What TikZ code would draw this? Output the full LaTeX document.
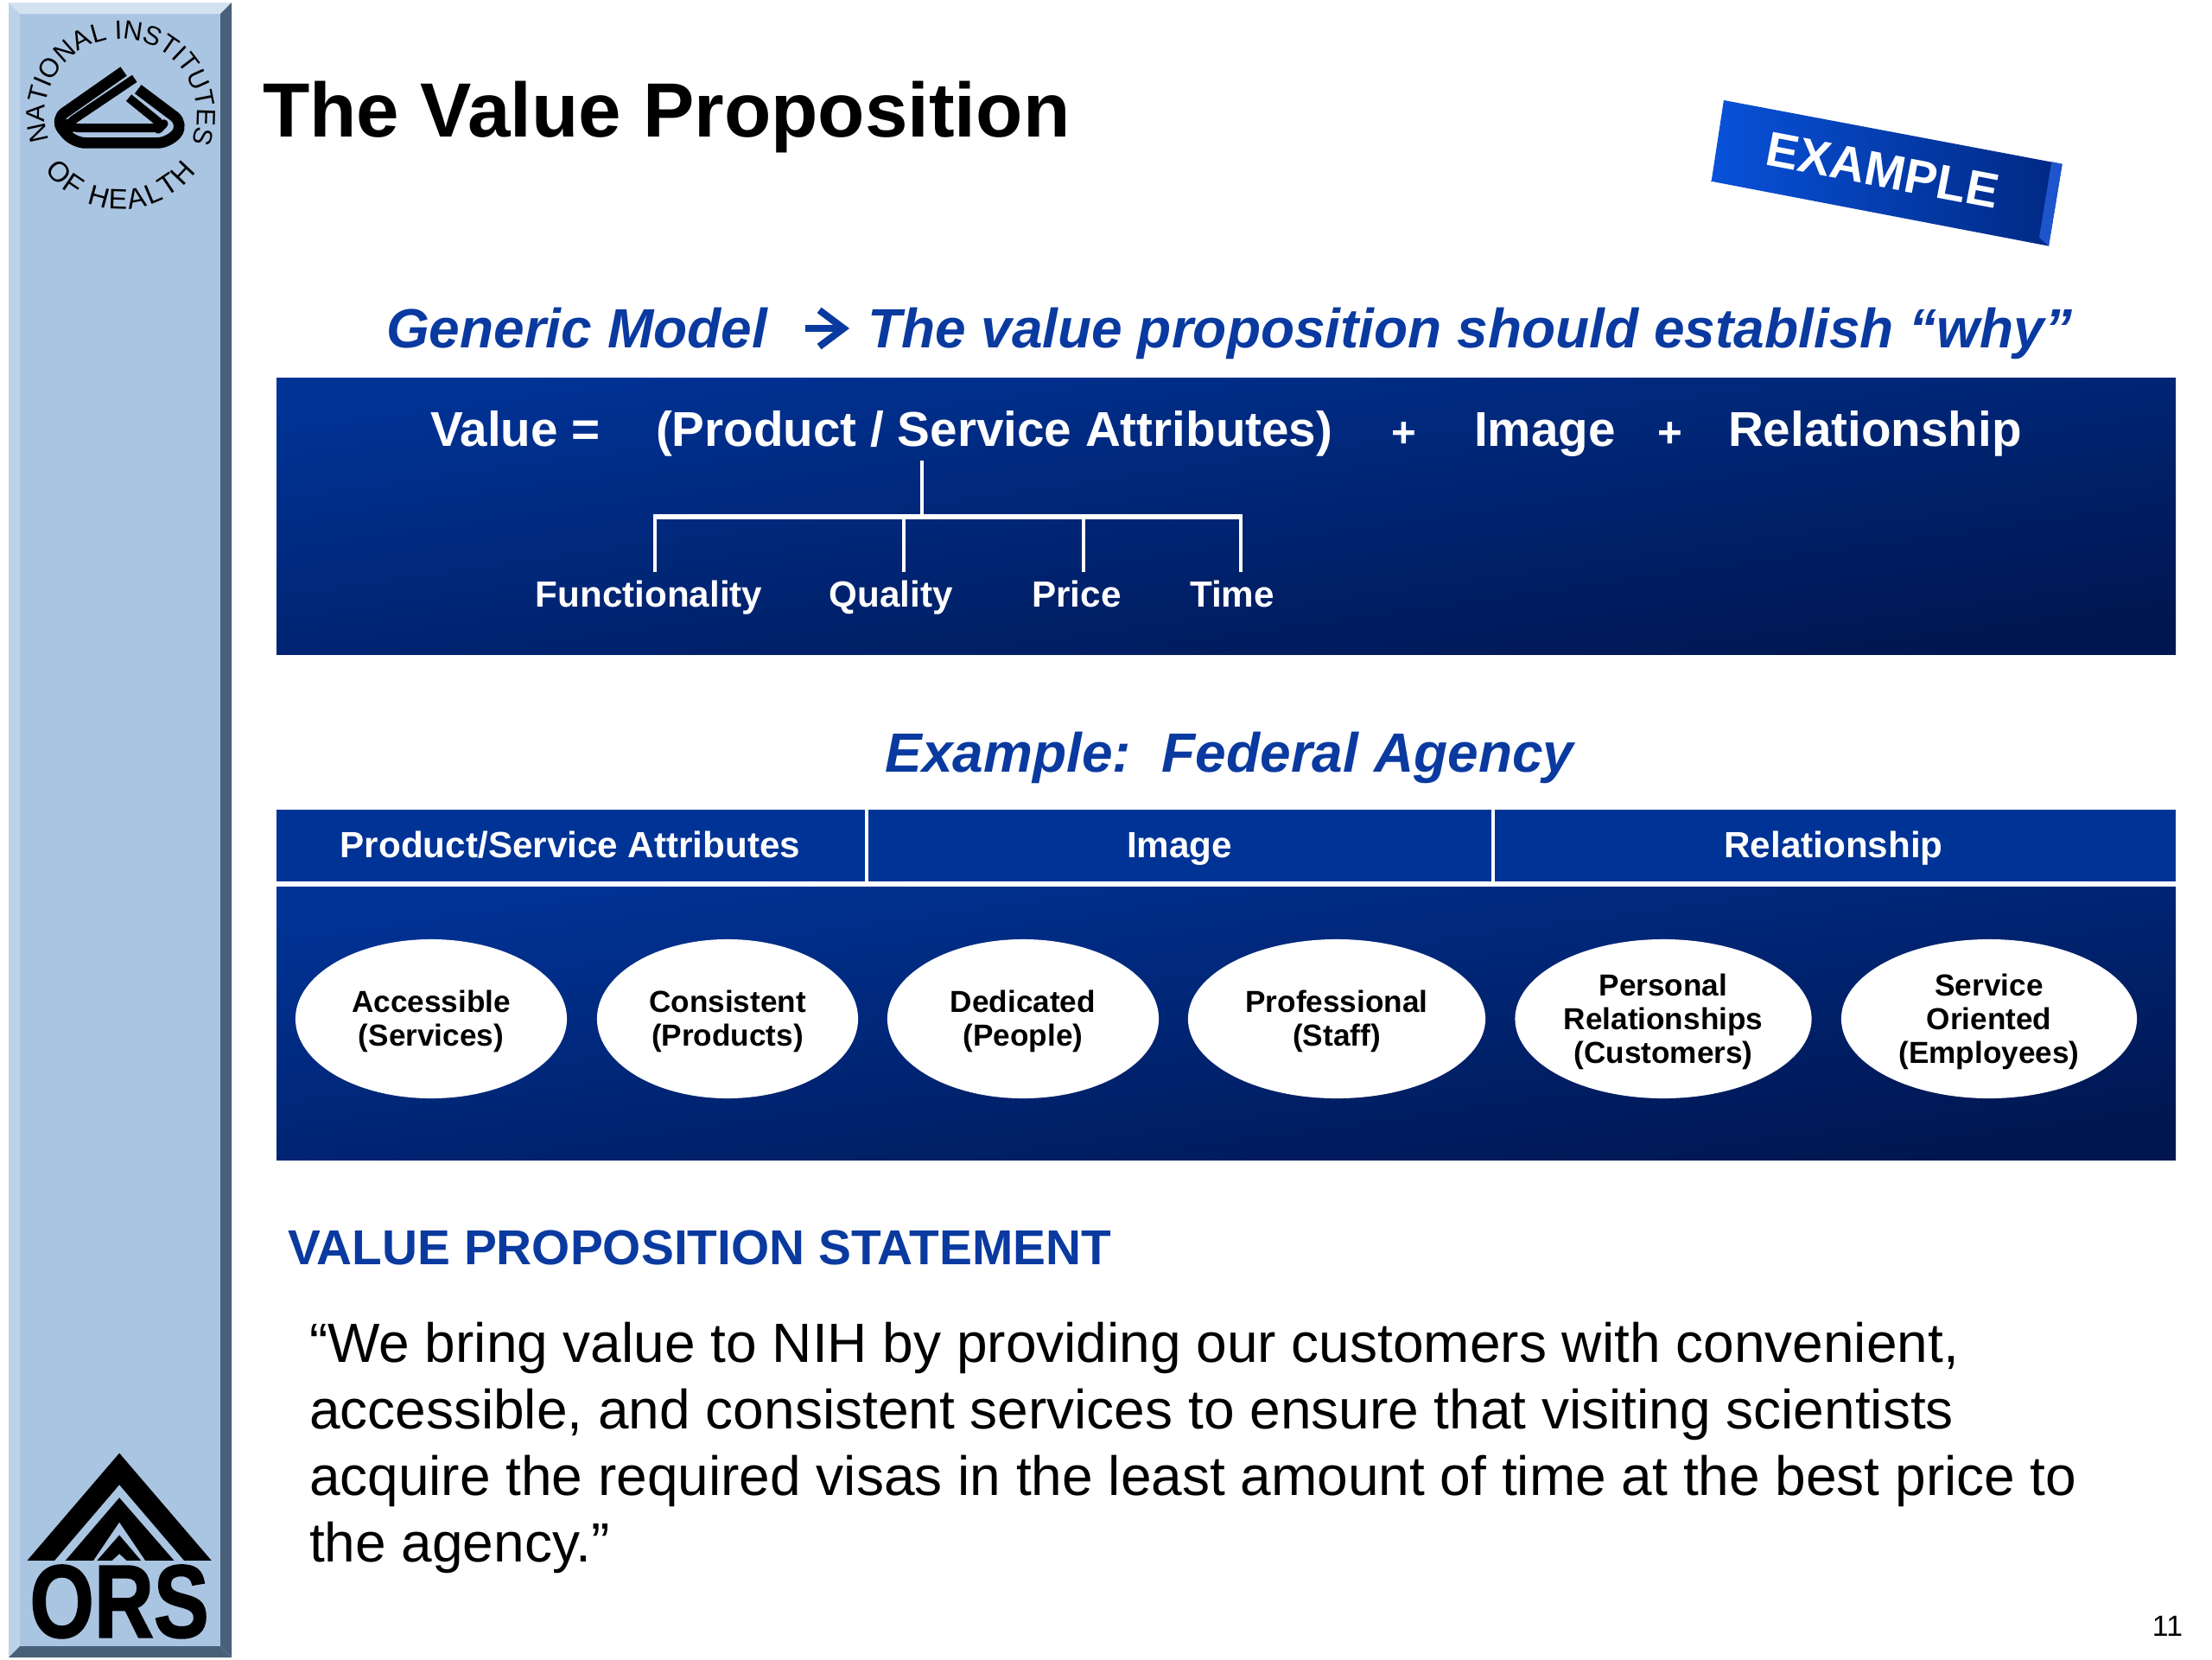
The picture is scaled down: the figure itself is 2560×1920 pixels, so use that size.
\documentclass[tikz,border=0pt]{standalone}
\usepackage{fontspec}
\setmainfont{Liberation Sans}
\newfontfamily\orsfont[FakeBold=1.6]{Liberation Sans Bold}
\usetikzlibrary{arrows.meta,shapes.geometric,decorations.text}

\begin{document}
\begin{tikzpicture}[x=0.01cm,y=-0.01cm,>={Straight Barb[length=8pt,width=12pt]},
 plain/.style={inner sep=0pt,outer sep=0pt},
 topic/.style={plain,text=ink,font=\bfseries\itshape\fontsize{18.2}{22}\selectfont},
 valueterm/.style={plain,anchor=base west,text=white,font=\bfseries\fontsize{16.1}{19}\selectfont},
 plussign/.style={plain,anchor=base,text=white,font=\bfseries\fontsize{14}{19}\selectfont},
 factor/.style={plain,anchor=base,text=white,font=\bfseries\fontsize{12}{14}\selectfont},
 column/.style={plain,anchor=base,text=white,font=\bfseries\fontsize{12}{14}\selectfont},
 attrib/.style={ellipse,plain,fill=white,align=center,minimum height=1.84cm,
  font=\bfseries\fontsize{10}{11.1}\selectfont},
 panel/.style={top color=navytop,bottom color=navybot,shading angle=8},
 headcell/.style={fill=navytop},
 tree/.style={white,line width=1pt},
 nihband/.style={line cap=butt,line join=round}]
\definecolor{ink}{RGB}{10,58,160}
\definecolor{navytop}{RGB}{0,51,150}
\definecolor{navybot}{RGB}{0,22,80}
\definecolor{sidebar}{RGB}{170,197,226}
\definecolor{bevellight}{RGB}{212,226,240}
\definecolor{bevelleft}{RGB}{188,210,233}
\definecolor{beveldark}{RGB}{72,96,120}
\definecolor{tagleft}{RGB}{8,82,218}
\definecolor{tagright}{RGB}{0,40,130}
\definecolor{tagedge}{RGB}{30,85,205}
\useasboundingbox (0,0) rectangle (2560,1920);
\fill[white] (0,0) rectangle (2560,1920);

% Side bar with its bevelled edges.
\fill[sidebar] (23,16) rectangle (255,1905);
\fill[bevellight] (10,3)--(268,3)--(255,16)--(23,16)--cycle;
\fill[bevelleft] (10,3)--(23,16)--(23,1905)--(10,1918)--cycle;
\fill[beveldark] (268,3)--(268,1918)--(255,1905)--(255,16)--cycle;
\fill[beveldark] (10,1918)--(23,1905)--(255,1905)--(268,1918)--cycle;

% Round seal; the numbers are pixels of the 3x crop.
\begin{scope}[shift={(140,133)}]
\path[decorate,decoration={text along path,text align=center,
 text={|\fontsize{8.7}{9}\selectfont|NATIONAL INSTITUTES}}]
 (200:0.88cm) arc[start angle=200,end angle=-22,radius=0.88cm];
\path[decorate,decoration={text along path,text align=fit to path,
 text={|\fontsize{9.3}{9}\selectfont|OF HEALTH}}]
 (216:1.09cm) arc[start angle=216,end angle=323,radius=1.09cm];
\end{scope}
\begin{scope}[x=0.00333cm,y=-0.00333cm]
\draw[nihband,line width=3.6pt,rounded corners=4pt] (430,248)--(190,416)--(255,497)
 --(590,497)--(640,430)--(480,310);
\draw[nihband,line width=2.8pt,rounded corners=2pt] (468,273)--(238,428)--(250,445)
 --(555,445)--(565,435)--(448,340);
\end{scope}

% Roof mark and letters at the foot of the bar.
\begin{scope}[shift={(0,1640)},x=0.00333cm,y=-0.00333cm]
\fill (415,125)--(735,498)--(640,498)--(415,235)--(190,498)--(95,498)--cycle;
\fill (415,280)--(605,498)--(505,498)--(415,365)--(325,498)--(228,498)--cycle;
\fill (415,410)--(490,498)--(440,498)--(415,475)--(390,498)--(338,498)--cycle;
\node[plain,anchor=base,xscale=0.8,font=\orsfont\fontsize{34}{34}\selectfont] (ors) at (415,765) {ORS};
\end{scope}

\node[plain,anchor=base west,font=\bfseries\fontsize{25.3}{30}\selectfont] (title) at (304,158) {The Value Proposition};

% Tilted tag, points read off the crop.
\begin{scope}[shift={(1950,90)},x=0.00333cm,y=-0.00333cm]
\path[left color=tagleft,right color=tagright]
 (135,78)--(1312,300)--(1265,585)--(92,360)--cycle;
\fill[tagedge] (1275,292)--(1312,300)--(1265,585)--(1232,555)--cycle;
\node[plain,rotate=-10.7,text=white,font=\bfseries\fontsize{16}{19}\selectfont] (tag) at (688,322) {EXAMPLE};
\end{scope}

\node[topic,anchor=base west] (generic) at (447,402) {Generic Model};
\node[topic,anchor=base west] (why) at (1004,402) {The value proposition should establish “why”};
\coordinate (arrowend) at (983,380);
\draw[->,ink,line width=2.3pt] (generic.east|-arrowend)++(44,0)--(arrowend);

% Generic model panel.
\path[panel] (320,437) rectangle (2518,757);
\node[valueterm] (value) at (498,516) {Value =};
\node[valueterm] (attrs) at (759,516) {(Product / Service Attributes)};
\node[plussign] (plusa) at (1625,517) {+};
\node[valueterm] (image) at (1706,516) {Image};
\node[plussign] (plusb) at (1933,517) {+};
\node[valueterm] (rel) at (2000,516) {Relationship};
\node[factor] (func) at (751,702) {Functionality};
\node[factor] (qual) at (1031,702) {Quality};
\node[factor] (price) at (1246,702) {Price};
\node[factor] (time) at (1426,702) {Time};
\coordinate (stem) at (1067,533);
\coordinate (busa) at (758,598);
\coordinate (busb) at (1046,598);
\coordinate (busc) at (1254,598);
\coordinate (busd) at (1436,598);
\coordinate (droplevel) at (0,662);
\draw[tree] (stem)--(stem|-busa);
\draw[tree,line width=1.5pt] ([xshift=-0.5pt]busa)--([xshift=0.5pt]busd);
\draw[tree] (busa)--(busa|-droplevel);
\draw[tree] (busb)--(busb|-droplevel);
\draw[tree] (busc)--(busc|-droplevel);
\draw[tree] (busd)--(busd|-droplevel);

\node[topic,anchor=base] (agency) at (1423,893) {Example:\ \ Federal Agency};

% Federal agency panel with its three column heads.
\path[headcell] (320,937) rectangle (1001,1020);
\path[headcell] (1005,937) rectangle (1726,1020);
\path[headcell] (1730,937) rectangle (2518,1020);
\path[panel] (320,1026) rectangle (2518,1342);
\node[column] (colattr) at (660,992) {Product/Service Attributes};
\node[column] (colimg) at (1365,992) {Image};
\node[column] (colrel) at (2122,992) {Relationship};
\node[attrib,minimum width=3.14cm] (acc) at (499,1179) {\rule{0pt}{9.1pt}Accessible\\(Services)};
\node[attrib,minimum width=3.02cm] (con) at (842,1179) {\rule{0pt}{9.1pt}Consistent\\(Products)};
\node[attrib,minimum width=3.14cm] (ded) at (1184,1179) {\rule{0pt}{9.1pt}Dedicated\\(People)};
\node[attrib,minimum width=3.44cm] (pro) at (1547,1179) {\rule{0pt}{9.1pt}Professional\\(Staff)};
\node[attrib,minimum width=3.43cm] (per) at (1925,1179) {\rule{0pt}{9.1pt}Personal\\Relationships\\(Customers)};
\node[attrib,minimum width=3.42cm] (ser) at (2302,1179) {\rule{0pt}{9.1pt}Service\\Oriented\\(Employees)};

\node[plain,anchor=base west,text=ink,font=\bfseries\fontsize{16.15}{19}\selectfont] (vps) at (333,1463) {VALUE PROPOSITION STATEMENT};
\node[plain,anchor=north west,align=left,font=\fontsize{18.2}{21.9}\selectfont] (stmt) at (358,1530)
 {“We bring value to NIH by providing our customers with convenient,\\
 accessible, and consistent services to ensure that visiting scientists\\
 acquire the required visas in the least amount of time at the best price to\\
 the agency.”};
\node[plain,anchor=base east,font=\fontsize{9.6}{11}\selectfont] (pageno) at (2526,1893) {11};
\end{tikzpicture}
\end{document}
